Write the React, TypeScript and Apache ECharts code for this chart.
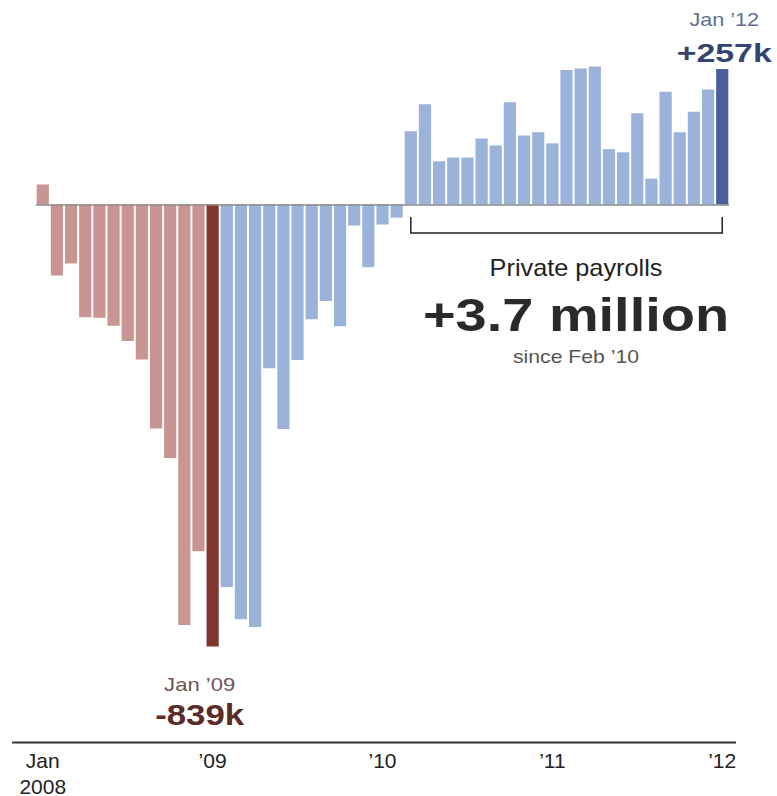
import React, { useEffect, useRef } from "react";
import * as echarts from "echarts";

const years = [2008, 2009, 2010, 2011, 2012];
const monthNames = ["Jan", "Feb", "Mar", "Apr", "May", "Jun", "Jul", "Aug", "Sep", "Oct", "Nov", "Dec"];
const categories = years.flatMap((y) => monthNames.map((m) => `${m} ${y}`)).slice(0, 49);

// monthly change in private payrolls, thousands
const values2008 = [38, -135, -112, -214, -215, -230, -259, -294, -425, -481, -798, -658];
const values2009 = [-839, -726, -787, -802, -311, -426, -295, -218, -183, -231, -40, -119];
const values2010 = [-38, -25, 139, 190, 82, 89, 89, 125, 112, 194, 131, 137];
const values2011 = [116, 255, 258, 262, 105, 99, 173, 49, 214, 137, 176, 218];
const values2012 = [257];
const values = [...values2008, ...values2009, ...values2010, ...values2011, ...values2012];

const xTickLabels = ["Jan\n2008", "’09", "’10", "’11", "’12"];

const RED = "#c99593";
const RED_DARK = "#80352f";
const BLUE = "#9bb2da";
const BLUE_DARK = "#4a6098";
const FONT = '"Liberation Sans", Arial, Helvetica, sans-serif';

export default function App() {
  const ref = useRef<HTMLDivElement>(null);
  useEffect(() => {
    if (!ref.current) return;
    const chart = echarts.init(ref.current, null, { renderer: "svg" });
    const barData = values.map((v, i) => {
      let color = BLUE;
      if (i < 12) color = RED;
      else if (i === 12) color = RED_DARK;
      else if (i === values.length - 1) color = BLUE_DARK;
      return { value: v, itemStyle: { color } };
    });
    chart.setOption({
      animation: false,
      backgroundColor: "#ffffff",
      grid: {
        left: 35.7,
        right: 47.7,
        top: 4.5,
        bottom: 53.5,
        containLabel: false,
        outerBoundsMode: "none",
      },
      xAxis: {
        type: "category",
        data: categories,
        boundaryGap: true,
        axisLine: { show: false },
        axisTick: { show: false },
        splitLine: { show: false },
        axisLabel: {
          interval: (index: number) => index % 12 === 0,
          formatter: (_v: string, index: number) => (index % 12 === 0 ? xTickLabels[index / 12] : ""),
          fontSize: 21,
          lineHeight: 26,
          color: "#222222",
          fontFamily: FONT,
          margin: 4.5,
          align: "center",
        },
      },
      yAxis: {
        type: "value",
        min: -1021,
        max: 379.5,
        show: false,
        splitLine: { show: false },
      },
      series: [
        {
          type: "bar",
          data: barData,
          barWidth: 12.2,
          markLine: {
            silent: true,
            symbol: ["none", "none"],
            label: { show: false },
            lineStyle: { color: "#8a8a8a", width: 1.5, type: "solid" },
            data: [{ yAxis: 0 }],
          },
        },
      ],
    });

    const px = (i: number, v: number) => chart.convertToPixel({ gridIndex: 0 }, [i, v]) as number[];
    const last = values.length - 1;
    const pLast = px(last, values[last]);
    const pMin = px(12, values[12]);
    const pStart = px(26, 0);
    const pZero = px(0, 0);

    const txt = (text: string, x: number, y: number, size: number, color: string, bold: boolean, scaleX: number) => ({
      type: "text",
      x,
      y,
      scaleX,
      style: {
        text,
        fill: color,
        fontSize: size,
        fontWeight: bold ? "bold" : "normal",
        fontFamily: FONT,
        textAlign: "center",
        textVerticalAlign: "middle",
      },
    });

    const bx1 = pStart[0];
    const bx2 = pLast[0];
    const by1 = pZero[1] + 12.5;
    const by2 = pZero[1] + 28.5;

    chart.setOption({
      graphic: [
        {
          type: "line",
          shape: { x1: 12, y1: 742.5, x2: 736, y2: 742.5 },
          style: { stroke: "#333333", lineWidth: 2 },
        },
        {
          type: "polyline",
          shape: { points: [[bx1, by1], [bx1, by2], [bx2, by2], [bx2, by1]] },
          style: { stroke: "#222222", lineWidth: 1.5, fill: null },
        },
        txt("Jan ’12", pLast[0] + 2, 20, 18, "#5f6f8f", false, 1.2),
        txt("+257k", pLast[0] + 2, 53, 26, "#33456f", true, 1.3),
        txt("Jan ’09", pMin[0] - 13, 684, 19, "#6e5552", false, 1.16),
        txt("-839k", pMin[0] - 13, 715, 29, "#5b2b27", true, 1.2),
        txt("Private payrolls", 576, 268, 23, "#222222", false, 1.1),
        txt("+3.7 million", 576, 315, 47, "#2a2a2a", true, 1.19),
        txt("since Feb ’10", 576, 357, 18, "#555555", false, 1.18),
      ],
    });

    return () => chart.dispose();
  }, []);
  return (
    <div
      ref={ref}
      style={{ position: "absolute", left: 0, top: 0, width: 777, height: 796, background: "#ffffff" }}
    />
  );
}
